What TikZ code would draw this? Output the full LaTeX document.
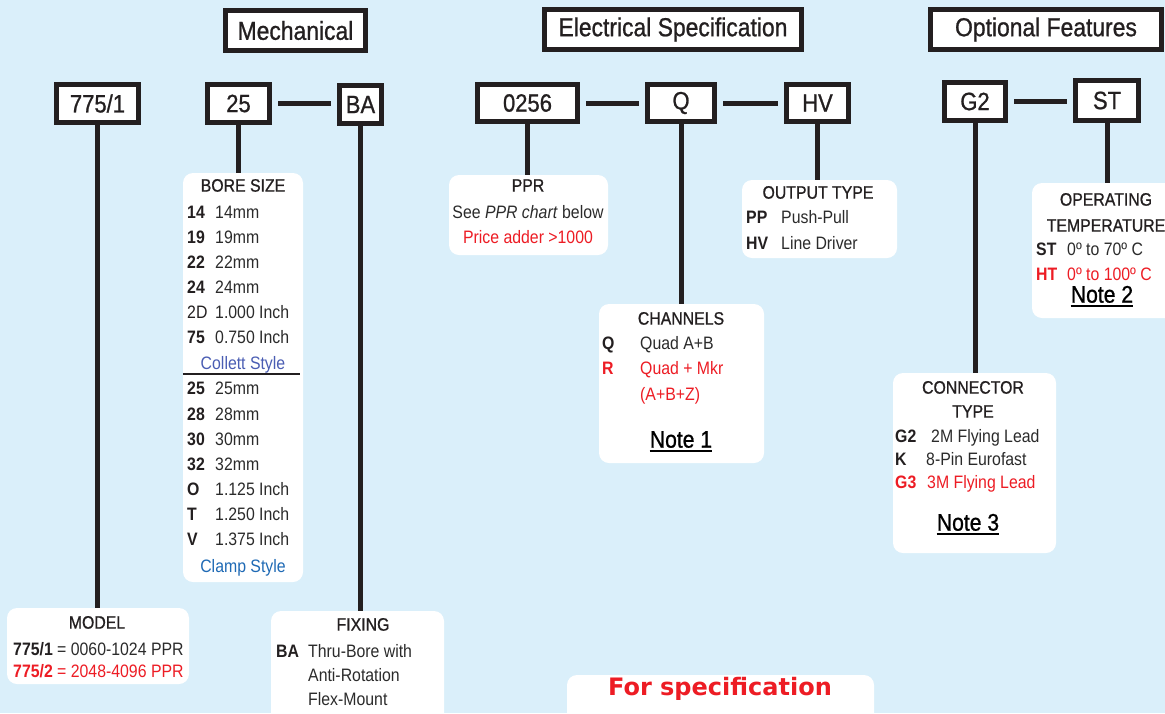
\documentclass[tikz,border=0pt]{standalone}
\usepackage{fontspec}
\setmainfont{Liberation Sans}[FakeStretch=0.88]
\newfontfamily\heavyfont{Liberation Sans}[FakeStretch=0.88, FakeBold=0.9]
\newfontfamily\specfont{DejaVu Sans}
\definecolor{bg}{HTML}{DAEFFA}
\definecolor{ink}{HTML}{231F20}
\definecolor{valgrey}{HTML}{2B2B2B}
\definecolor{specred}{HTML}{ED1C24}
\definecolor{colblue}{HTML}{4A5DB3}
\definecolor{clablue}{HTML}{1F6AB5}
\newcommand\smallfnt{\fontsize{18}{21}\selectfont}
\newcommand\codefnt{\heavyfont\fontsize{25}{28}\selectfont}
\newcommand\headfnt{\heavyfont\fontsize{26}{30}\selectfont}
\newcommand\notefnt{\heavyfont\fontsize{24}{28}\selectfont}
\tikzset{
  hdr/.style={draw=ink, line width=5pt, fill=white, inner sep=0, font=\headfnt, text=ink},
  codebox/.style={draw=ink, line width=5pt, fill=white, inner sep=0, font=\codefnt, text=ink},
  info/.style={fill=white, rounded corners=10pt, inner sep=0},
  conn/.style={draw=ink, line width=5pt},
  hconn/.style={draw=ink, line width=5pt, shorten <=6pt, shorten >=6pt},
  ttl/.style={inner sep=0, anchor=mid, yshift=-3pt, font=\heavyfont\smallfnt, text=ink},
  code/.style={inner sep=0, anchor=mid west, yshift=-3pt, font=\smallfnt\bfseries, text=ink},
  val/.style={inner sep=0, anchor=mid west, yshift=-3pt, font=\smallfnt, text=valgrey},
  note/.style={inner sep=0, anchor=mid, yshift=-3pt, font=\notefnt, text=black},
  uline/.style={draw=black, line width=1.6pt},
}
\begin{document}
\begin{tikzpicture}[x=1pt,y=-1pt]
\clip (0,0) rectangle (1165,713);
\fill[bg] (0,0) rectangle (1165,713);

% headers
\node[hdr, minimum width=140pt, minimum height=40pt] (hm) at (295.5,30.5) {Mechanical};
\node[hdr, minimum width=257pt, minimum height=40pt] (he) at (673,29.5) {Electrical Specification};
\node[hdr, minimum width=231pt, minimum height=40pt] (ho) at (1046,29.5) {Optional Features};

% code boxes
\node[codebox, minimum width=82pt, minimum height=38pt] (m775) at (97.5,103.5) {775/1};
\node[codebox, minimum width=62pt, minimum height=38pt] (m25) at (238.5,103.5) {25};
\node[codebox, minimum width=42pt, minimum height=38pt] (mBA) at (360.5,104.5) {BA};
\node[codebox, minimum width=100pt, minimum height=37pt] (e0256) at (527.5,103) {0256};
\node[codebox, minimum width=67pt, minimum height=37pt] (eQ) at (681,103) {Q};
\node[codebox, minimum width=62pt, minimum height=37pt] (eHV) at (817.5,103) {HV};
\node[codebox, minimum width=61pt, minimum height=38pt] (oG2) at (975,101.5) {G2};
\node[codebox, minimum width=63pt, minimum height=40pt] (oST) at (1107,100.5) {ST};

% info boxes
\node[info, minimum width=120pt, minimum height=409pt] (bore) at (243,377.5) {};
\node[info, minimum width=182pt, minimum height=76pt] (model) at (98,646) {};
\node[info, minimum width=173pt, minimum height=119pt] (fixing) at (357.5,670.5) {};
\node[info, minimum width=159pt, minimum height=80pt] (ppr) at (528.5,215) {};
\node[info, minimum width=155pt, minimum height=78pt] (output) at (819.5,219) {};
\node[info, minimum width=148pt, minimum height=135pt] (optemp) at (1106,250.5) {};
\node[info, minimum width=165pt, minimum height=159pt] (channels) at (681.5,383.5) {};
\node[info, minimum width=163pt, minimum height=180pt] (connector) at (974.5,463) {};
\node[info, minimum width=307pt, minimum height=65pt] (spec) at (720.5,707.5) {};

% connectors
\draw[conn] (m775.south) -- (m775.south |- model.north);
\draw[conn] (m25.south) -- (m25.south |- bore.north);
\draw[conn] (mBA.south) -- (mBA.south |- fixing.north);
\draw[conn] (e0256.south) -- (e0256.south |- ppr.north);
\draw[conn] (eQ.south) -- (eQ.south |- channels.north);
\draw[conn] (eHV.south) -- (eHV.south |- output.north);
\draw[conn] (oG2.south) -- (oG2.south |- connector.north);
\draw[conn] (oST.south) -- (oST.south |- optemp.north);
\draw[hconn] (m25.east) -- (m25.east -| mBA.west);
\draw[hconn] (e0256.east) -- (e0256.east -| eQ.west);
\draw[hconn] (eQ.east) -- (eQ.east -| eHV.west);
\draw[hconn] (oG2.east) -- (oG2.east -| oST.west);

% bore size
\node[ttl] (bst) at (243,186) {BORE SIZE};
\foreach \c/\v/\y [count=\i] in {14/14mm/213, 19/19mm/238, 22/22mm/263, 24/24mm/288,
   {\mdseries 2D}/1.000 Inch/313, 75/0.750 Inch/338,
   25/25mm/389, 28/28mm/415, 30/30mm/440, 32/32mm/465,
   O/1.125 Inch/490, T/1.250 Inch/515, V/1.375 Inch/540} {
  \node[code] (bc\i) at (187,\y) {\c};
  \node[val] (bv\i) at (215,\y) {\v};
}
\node[ttl, font=\smallfnt, text=colblue] (bcol) at (243,364) {Collett Style};
\draw[line width=2pt, ink] (bore.west |- 0,374) -- (300,374);
\node[ttl, font=\smallfnt, text=clablue] (bcla) at (243,567) {Clamp Style};

% model
\node[ttl] (mt) at (97,623) {MODEL};
\node[val] (m1) at (13,650) {\textbf{\color{ink}775/1} = 0060-1024 PPR};
\node[val, text=specred] (m2) at (13,672) {\textbf{775/2} = 2048-4096 PPR};

% fixing
\node[ttl] (ft) at (363,625) {FIXING};
\node[code] (fc) at (276,652) {BA};
\node[val] (f1) at (308,652) {Thru-Bore with};
\node[val] (f2) at (308,676) {Anti-Rotation};
\node[val] (f3) at (308,700) {Flex-Mount};

% ppr
\node[ttl] (pt) at (528,186) {PPR};
\node[ttl, font=\smallfnt, text=valgrey] (p1) at (528,213) {See \textit{PPR chart} below};
\node[ttl, font=\smallfnt, text=specred] (p2) at (528,238) {Price adder >1000};

% output type
\node[ttl] (ot) at (818,193) {OUTPUT TYPE};
\node[code] (oc1) at (746,218) {PP};
\node[val] (ov1) at (781,218) {Push-Pull};
\node[code] (oc2) at (746,244) {HV};
\node[val] (ov2) at (781,244) {Line Driver};

% operating temperature
\node[ttl] (tt1) at (1106,200) {OPERATING};
\node[ttl] (tt2) at (1106,226) {TEMPERATURE};
\node[code] (tc1) at (1036,250) {ST};
\node[val] (tv1) at (1067,250) {0º to 70º C};
\node[code, text=specred] (tc2) at (1036,275) {HT};
\node[val, text=specred] (tv2) at (1067,275) {0º to 100º C};
\node[note] (n2) at (1102,297) {Note 2};
\draw[uline] ([yshift=-3pt]n2.south west) -- ([yshift=-3pt]n2.south east);

% channels
\node[ttl] (ct) at (681,319) {CHANNELS};
\node[code] (cc1) at (602,344) {Q};
\node[val] (cv1) at (640,344) {Quad A+B};
\node[code, text=specred] (cc2) at (602,369) {R};
\node[val, text=specred] (cv2) at (640,369) {Quad + Mkr};
\node[val, text=specred] (cv3) at (640,395) {(A+B+Z)};
\node[note] (n1) at (681,442) {Note 1};
\draw[uline] ([yshift=-3pt]n1.south west) -- ([yshift=-3pt]n1.south east);

% connector type
\node[ttl] (kt1) at (973,388) {CONNECTOR};
\node[ttl] (kt2) at (973,412) {TYPE};
\node[code] (kc1) at (895,437) {G2};
\node[val] (kv1) at (931,437) {2M Flying Lead};
\node[code] (kc2) at (895,460) {K};
\node[val] (kv2) at (926,460) {8-Pin Eurofast};
\node[code, text=specred] (kc3) at (895,483) {G3};
\node[val, text=specred] (kv3) at (927,483) {3M Flying Lead};
\node[note] (n3) at (968,525) {Note 3};
\draw[uline] ([yshift=-3pt]n3.south west) -- ([yshift=-3pt]n3.south east);

% for specification
\node[inner sep=0, anchor=mid, yshift=-4pt, text=specred, font=\specfont\bfseries\fontsize{24}{28}\selectfont] (sp) at (720,689) {For specification};
\end{tikzpicture}
\end{document}
